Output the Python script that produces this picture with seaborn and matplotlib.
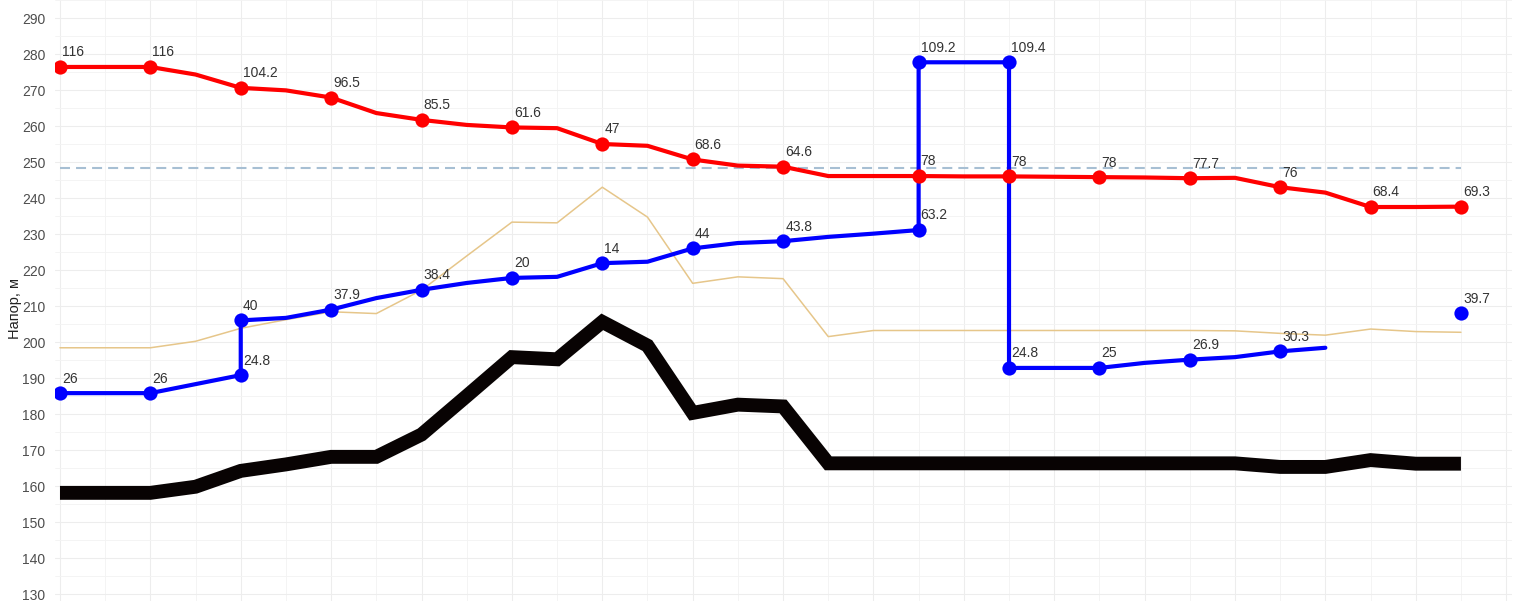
import pandas as pd
import seaborn as sns
import matplotlib.pyplot as plt
from matplotlib.ticker import MultipleLocator
import numpy as np

# station index along the profile (evenly spaced)
pos = list(range(32))

# hydraulic head of the main line (red)
red_head = [276.4, 276.4, 276.4, 274.3, 270.6, 269.9, 267.9, 263.6, 261.7, 260.3,
            259.6, 259.4, 255.0, 254.5, 250.7, 249.0, 248.7, 246.1, 246.1, 246.1,
            246.0, 246.0, 245.9, 245.8, 245.7, 245.5, 245.6, 243.0, 241.5, 237.5,
            237.5, 237.6]
red_mark_pos = [0, 2, 4, 6, 8, 10, 12, 14, 16, 19, 21, 23, 25, 27, 29, 31]
red_labels = ['116', '116', '104.2', '96.5', '85.5', '61.6', '47', '68.6', '64.6',
              '78', '78', '78', '77.7', '76', '68.4', '69.3']

# second line (blue), with vertical jumps at stations 4, 19 and 21
blue_pos = [0, 1, 2, 3, 4, 4, 5, 6, 7, 8, 9, 10, 11, 12, 13, 14, 15, 16, 17, 18,
            19, 19, 20, 21, 21, 22, 23, 24, 25, 26, 27, 28, 31]
blue_head = [185.8, 185.8, 185.8, 188.3, 190.8, 206.0, 206.7, 209.0, 212.2, 214.5,
             216.4, 217.8, 218.1, 221.9, 222.3, 226.0, 227.5, 228.0, 229.2, 230.1,
             231.1, 277.7, 277.7, 277.7, 192.8, 192.8, 192.8, 194.2, 195.1, 195.8,
             197.4, 198.4, 208.0]
blue_seg = [0] * 32 + [1]
blue_mark = [(0, 185.8, '26'), (2, 185.8, '26'), (4, 190.8, '24.8'), (4, 206.0, '40'),
             (6, 209.0, '37.9'), (8, 214.5, '38.4'), (10, 217.8, '20'), (12, 221.9, '14'),
             (14, 226.0, '44'), (16, 228.0, '43.8'), (19, 231.1, '63.2'), (19, 277.7, '109.2'),
             (21, 277.7, '109.4'), (21, 192.8, '24.8'), (23, 192.8, '25'), (25, 195.1, '26.9'),
             (27, 197.4, '30.3'), (31, 208.0, '39.7')]

# thin tan line
tan_head = [198.4, 198.4, 198.4, 200.2, 203.8, 206.2, 208.4, 207.9, 214.4, 223.9,
            233.3, 233.1, 243.0, 234.7, 216.3, 218.1, 217.6, 201.5, 203.2, 203.2,
            203.2, 203.2, 203.2, 203.2, 203.2, 203.2, 203.1, 202.4, 201.9, 203.6,
            202.9, 202.7]

# ground profile (thick black)
ground = [158.1, 158.1, 158.1, 159.8, 164.2, 166.0, 168.1, 168.1, 174.3, 185.0,
          195.8, 195.2, 205.6, 199.0, 180.3, 182.6, 182.1, 166.3, 166.3, 166.3,
          166.3, 166.3, 166.3, 166.3, 166.3, 166.3, 166.3, 165.3, 165.3, 167.2,
          166.2, 166.2]

dash_pos = [0, 31]
dash_head = [248.2, 248.2]

y_ticks = list(range(130, 291, 10))

sns.set_theme(style='white')
plt.rcParams['font.family'] = ['Liberation Sans', 'DejaVu Sans']

fig = plt.figure(figsize=(15.15, 6.01), dpi=100)
ax = fig.add_axes([55 / 1515, 0, (1512 - 55) / 1515, 1])

df = pd.DataFrame({'pos': pos, 'red': red_head, 'tan': tan_head, 'ground': ground})
blue = pd.DataFrame({'pos': blue_pos, 'head': blue_head, 'seg': blue_seg})
bm = pd.DataFrame(blue_mark, columns=['pos', 'head', 'label'])
rm = df.set_index('pos').loc[red_mark_pos, ['red']].reset_index()
rm['label'] = red_labels

sns.lineplot(ax=ax, data=df, x='pos', y='tan', color='#e6c68a', linewidth=1.1, zorder=2)
g = sns.lineplot(ax=ax, data=df, x='pos', y='ground', color='#080303', linewidth=10, zorder=3)
g.lines[-1].set_solid_capstyle('butt')
g.lines[-1].set_solid_joinstyle('miter')
sns.lineplot(ax=ax, x=dash_pos, y=dash_head, color='#a7bfd3', linewidth=1.5,
             linestyle=(0, (4.8, 2.9)), zorder=3)
sns.lineplot(ax=ax, data=blue, x='pos', y='head', units='seg', estimator=None, sort=False,
             color='#0000ff', linewidth=3.0, zorder=4)
sns.lineplot(ax=ax, data=df, x='pos', y='red', color='#ff0000', linewidth=3.0, zorder=5)
sns.scatterplot(ax=ax, data=bm, x='pos', y='head', color='#0000ff', s=105, linewidth=0, zorder=6)
sns.scatterplot(ax=ax, data=rm, x='pos', y='red', color='#ff0000', s=105, linewidth=0, zorder=7)

for _, r in rm.iterrows():
    ax.annotate(r['label'], (r['pos'], r['red']), xytext=(1.5, 10.5), textcoords='offset points',
                ha='left', va='center', fontsize=10, color='#333333', zorder=8)
for _, r in bm.iterrows():
    ax.annotate(r['label'], (r['pos'], r['head']), xytext=(1.5, 10.5), textcoords='offset points',
                ha='left', va='center', fontsize=10, color='#333333', zorder=8)

ax.set_xlim(-0.11, 32.13)
ax.set_ylim(128.06, 295)
ax.set_yticks(y_ticks)
ax.yaxis.set_minor_locator(MultipleLocator(5))
ax.xaxis.set_major_locator(MultipleLocator(2))
ax.xaxis.set_minor_locator(MultipleLocator(1))
ax.grid(which='major', color='#ededed', linewidth=0.8)
ax.grid(which='minor', color='#f3f3f3', linewidth=0.6)
ax.set_axisbelow(True)
ax.set_xticklabels([])
ax.tick_params(axis='x', which='both', length=0)
ax.tick_params(axis='y', which='both', length=0, pad=7, labelsize=10, labelcolor='#4d4d4d')
for s in ax.spines.values():
    s.set_visible(False)
ax.set_xlabel('')
ax.set_ylabel('Напор, м', fontsize=10.5, color='#222222')
ax.yaxis.set_label_coords(-0.0225, 0.4875)

plt.savefig('out.png', dpi=100)
